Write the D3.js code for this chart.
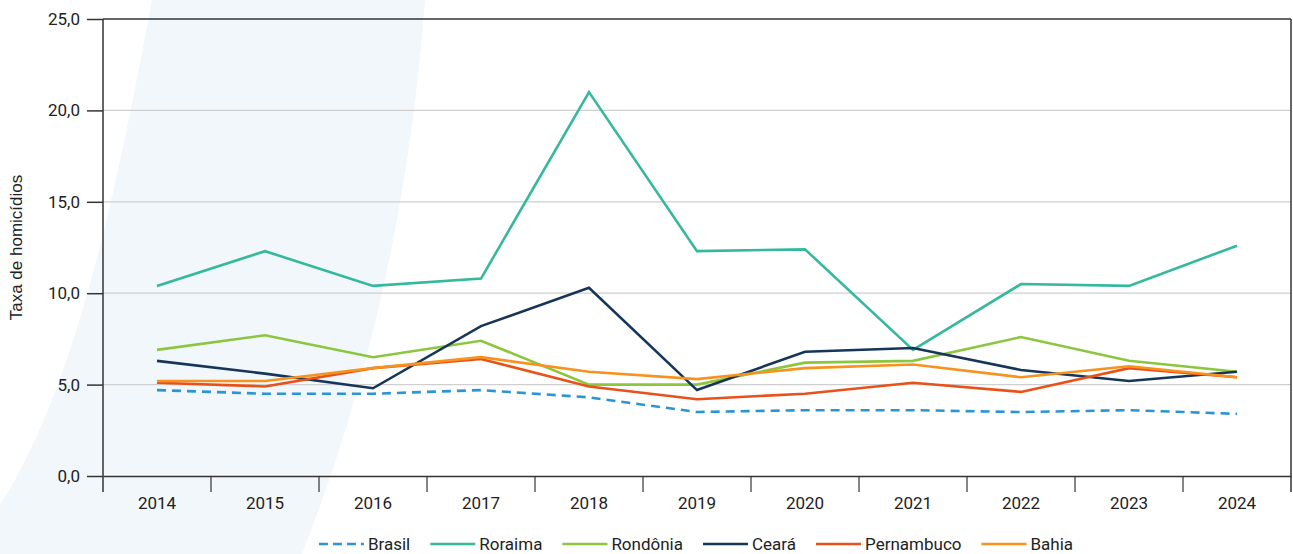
<!DOCTYPE html>
<html>
<head>
<meta charset="utf-8">
<script src="https://cdn.jsdelivr.net/npm/d3@7"></script>
<style>
  body { margin: 0; background: #fff; }
  svg { display: block; }
</style>
</head>
<body>
<svg id="chart" width="1293" height="554"></svg>
<script>
// years on the x axis
const years = ["2014", "2015", "2016", "2017", "2018", "2019", "2020", "2021", "2022", "2023", "2024"]

// homicide rate per series
const brasil     = [4.7, 4.5, 4.5, 4.7, 4.3, 3.5, 3.6, 3.6, 3.5, 3.6, 3.4]
const roraima    = [10.4, 12.3, 10.4, 10.8, 21.0, 12.3, 12.4, 6.9, 10.5, 10.4, 12.6]
const rondonia   = [6.9, 7.7, 6.5, 7.4, 5.0, 5.0, 6.2, 6.3, 7.6, 6.3, 5.7]
const ceara      = [6.3, 5.6, 4.8, 8.2, 10.3, 4.7, 6.8, 7.0, 5.8, 5.2, 5.7]
const pernambuco = [5.1, 4.9, 5.9, 6.4, 4.9, 4.2, 4.5, 5.1, 4.6, 5.9, 5.4]
const bahia      = [5.2, 5.2, 5.9, 6.5, 5.7, 5.3, 5.9, 6.1, 5.4, 6.0, 5.4]

const yTicks = [0, 5, 10, 15, 20, 25]

const series = [
  { name: "Brasil", values: brasil, color: "#2a95d5", dash: "9,6" },
  { name: "Roraima", values: roraima, color: "#35b89d" },
  { name: "Rondônia", values: rondonia, color: "#8cc63f" },
  { name: "Ceará", values: ceara, color: "#163659" },
  { name: "Pernambuco", values: pernambuco, color: "#e9511b" },
  { name: "Bahia", values: bahia, color: "#f7921e" }
]

const margin = { top: 19, right: 2, bottom: 78, left: 103 }
const width = 1293, height = 554
const labelFont = "Roboto, 'Open Sans', sans-serif"
const svg = d3.select("#chart")

// soft background band
svg.append("path")
  .attr("d", "M152,0 C120,170 80,380 0,505 L0,554 L302,554 C370,380 410,200 425,0 Z")
  .attr("fill", "#f1f7fb")

const x = d3.scaleBand()
  .domain(years)
  .range([margin.left, width - margin.right])

const y = d3.scaleLinear()
  .domain([0, 25])
  .range([height - margin.bottom, margin.top])

const fmt = d => d3.format(".1f")(d).replace(".", ",")

// gridlines
svg.append("g")
  .selectAll("line")
  .data(yTicks.filter(d => d > 0 && d < 25))
  .join("line")
  .attr("x1", margin.left)
  .attr("x2", width - margin.right)
  .attr("y1", d => y(d))
  .attr("y2", d => y(d))
  .attr("stroke", "#cfcfcf")
  .attr("stroke-width", 1.2)

// frame top and right
svg.append("line")
  .attr("x1", margin.left).attr("x2", width - margin.right)
  .attr("y1", y(25)).attr("y2", y(25))
  .attr("stroke", "#333").attr("stroke-width", 1.5)
svg.append("line")
  .attr("x1", width - margin.right).attr("x2", width - margin.right)
  .attr("y1", y(25)).attr("y2", y(0) + 16)
  .attr("stroke", "#333").attr("stroke-width", 1.5)

// y axis
const yAxis = svg.append("g")
  .attr("transform", `translate(${margin.left},0)`)
  .call(d3.axisLeft(y).tickValues(yTicks).tickFormat(fmt).tickSize(16).tickPadding(7))
yAxis.select(".domain").remove()
yAxis.selectAll(".tick line").attr("stroke", "#333").attr("stroke-width", 1.5)
yAxis.selectAll(".tick text")
  .style("font-family", labelFont)
  .style("font-size", "17px")
  .style("fill", "#222")
svg.append("line")
  .attr("x1", margin.left).attr("x2", margin.left)
  .attr("y1", y(25)).attr("y2", y(0) + 16)
  .attr("stroke", "#333").attr("stroke-width", 1.5)

// x axis, ticks sit on band boundaries
const xAxis = svg.append("g")
  .attr("transform", `translate(0,${y(0)})`)
  .call(d3.axisBottom(x).tickSize(0).tickPadding(21))
xAxis.select(".domain").attr("stroke", "#333").attr("stroke-width", 1.5)
xAxis.selectAll(".tick text")
  .style("font-family", labelFont)
  .style("font-size", "17px")
  .style("fill", "#222")
xAxis.append("g")
  .selectAll("line")
  .data(years.slice(1))
  .join("line")
  .attr("x1", d => x(d))
  .attr("x2", d => x(d))
  .attr("y1", 0)
  .attr("y2", 16)
  .attr("stroke", "#333")
  .attr("stroke-width", 1.2)

// y title
svg.append("text")
  .attr("transform", `translate(22,${(y(0) + y(25)) / 2}) rotate(-90)`)
  .attr("text-anchor", "middle")
  .style("font-family", "'Liberation Sans', Arial, sans-serif")
  .style("font-size", "17px")
  .style("fill", "#222")
  .text("Taxa de homicídios")

// lines
const line = d3.line()
  .x((d, i) => x(years[i]) + x.bandwidth() / 2)
  .y(d => y(d))

svg.append("g")
  .selectAll("path")
  .data(series)
  .join("path")
  .attr("d", d => line(d.values))
  .attr("fill", "none")
  .attr("stroke", d => d.color)
  .attr("stroke-width", 2.6)
  .attr("stroke-dasharray", d => d.dash || null)

// legend
const legend = svg.append("g").attr("transform", `translate(0,544)`)
const items = legend.selectAll("g")
  .data(series)
  .join("g")
items.append("line")
  .attr("x1", 0).attr("x2", 45)
  .attr("stroke", d => d.color)
  .attr("stroke-width", 2.6)
  .attr("stroke-dasharray", d => d.dash ? "9,5" : null)
items.append("text")
  .attr("x", 49)
  .attr("dy", "0.35em")
  .style("font-family", labelFont)
  .style("font-size", "17px")
  .style("fill", "#222")
  .text(d => d.name)

let offset = 0
const positions = []
items.each(function () {
  positions.push(offset)
  offset += this.getBBox().width + 20
})
const total = offset - 20
const start = 696 - total / 2
items.attr("transform", (d, i) => `translate(${start + positions[i]},0)`)
</script>
</body>
</html>
